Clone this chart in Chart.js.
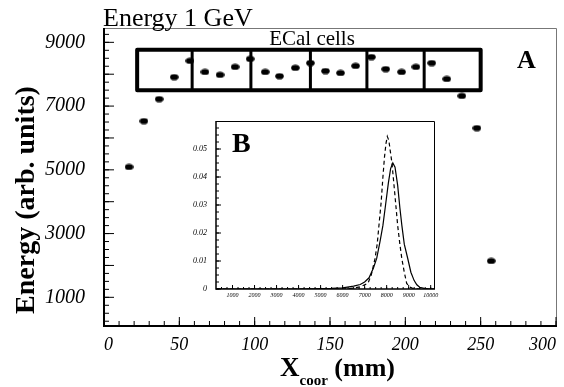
<!DOCTYPE html>
<html>
<head>
<meta charset="utf-8">
<script src="https://cdn.jsdelivr.net/npm/chart.js@4.4.0/dist/chart.umd.min.js"></script>
<style>
  html, body { margin: 0; padding: 0; background: #fff; }
  #wrap { position: relative; width: 564px; height: 387px; }
  #main { position: absolute; left: 0; top: 0; }
  #inset { position: absolute; left: 180px; top: 110px; }
</style>
</head>
<body>
<div id="wrap">
  <canvas id="main" width="564" height="387"></canvas>
  <canvas id="inset" width="265" height="195"></canvas>
</div>
<script>
// --- panel A: reconstructed energy vs. X coordinate ---
const xCoor  = [16.6, 26.5, 36.6, 46.6, 57, 67, 77, 87, 97, 107, 116.5, 127, 137,
                147, 157, 167, 177.5, 187, 197.5, 207, 217.5, 227.5, 237.5, 247.5, 257];
const energy = [5090, 6530, 7220, 7910, 8420, 8070, 7980, 8230, 8480, 8070, 7940, 8200, 8350,
                8100, 8040, 8260, 8540, 8160, 8070, 8230, 8350, 7850, 7320, 6310, 2140];
const xTicks = [0, 50, 100, 150, 200, 250, 300];
const yTicks = [1000, 3000, 5000, 7000, 9000];

// ECal cell borders (mm) and the energy band the drawing of the cells spans
const cellEdges = [22, 58.5, 97.5, 137, 174.5, 212.5, 250];
const cellBand  = [7500, 8770];

// --- panel B: energy spectra ---
const solidE = [250, 1000, 2000, 3000, 4000, 5000, 5500, 6000, 6500, 6800, 7000, 7200, 7400,
                7550, 7700, 7830, 7950, 8080, 8180, 8280, 8380, 8500, 8600, 8690, 8800, 8960,
                9100, 9250, 9370, 9500, 9700, 10000, 10150];
const solidP = [0, 0, 0, 0, 0, 0.0001, 0.0002, 0.0004, 0.001, 0.0016, 0.0025, 0.004, 0.0075,
                0.011, 0.017, 0.0227, 0.030, 0.038, 0.043, 0.045, 0.0435, 0.037, 0.029, 0.0227,
                0.016, 0.0108, 0.006, 0.003, 0.0015, 0.0006, 0.0002, 0, 0];
const dashE  = [250, 2000, 4000, 6000, 6500, 6800, 7000, 7150, 7300, 7470, 7570, 7650, 7750,
                7830, 7900, 7970, 8030, 8100, 8170, 8240, 8370, 8500, 8600, 8690, 8800, 8910,
                9050, 9200, 9500, 10150];
const dashP  = [0, 0, 0, 0, 0.0003, 0.0008, 0.0015, 0.002, 0.005, 0.0108, 0.016, 0.0227, 0.031,
                0.040, 0.047, 0.052, 0.0545, 0.053, 0.049, 0.045, 0.034, 0.0227, 0.016, 0.0108,
                0.006, 0.002, 0.0007, 0.0002, 0, 0];
const insetXTicks = [1000, 2000, 3000, 4000, 5000, 6000, 7000, 8000, 9000, 10000];
const insetYTicks = [0, 0.01, 0.02, 0.03, 0.04, 0.05];

const SERIF = "'Liberation Serif', 'DejaVu Serif', serif";

function dotImage() {
  const c = document.createElement('canvas');
  c.width = 9; c.height = 7;
  const g = c.getContext('2d');
  g.fillStyle = '#000';
  g.beginPath();
  g.ellipse(4.5, 3.5, 4.3, 3.1, 0, 0, Math.PI * 2);
  g.fill();
  return c;
}

// inward ROOT-like tick marks
function tickMarks(ctx, scale, area, from, to, step, len, horizontal) {
  ctx.beginPath();
  for (let v = from; v <= to + 1e-9; v += step) {
    const p = scale.getPixelForValue(v);
    if (horizontal) {
      ctx.moveTo(p, area.bottom);
      ctx.lineTo(p, area.bottom - len);
    } else {
      ctx.moveTo(area.left, p);
      ctx.lineTo(area.left + len, p);
    }
  }
  ctx.stroke();
}

const mainDecor = {
  id: 'mainDecor',
  beforeDatasetsDraw(chart) {
    const { ctx, chartArea: a, scales: { x, y } } = chart;
    ctx.save();
    // frame
    ctx.strokeStyle = '#777';
    ctx.lineWidth = 1;
    ctx.beginPath();
    ctx.moveTo(a.left, a.top + 0.5);
    ctx.lineTo(a.right + 0.5, a.top + 0.5);
    ctx.lineTo(a.right + 0.5, a.bottom);
    ctx.stroke();
    ctx.strokeStyle = '#000';
    ctx.lineWidth = 2;
    ctx.beginPath();
    ctx.moveTo(a.left, a.top);
    ctx.lineTo(a.left, a.bottom);
    ctx.lineTo(a.right + 1, a.bottom);
    ctx.stroke();
    ctx.lineWidth = 1;
    tickMarks(ctx, x, a, 0, 300, 10, 5, true);
    tickMarks(ctx, x, a, 0, 300, 50, 9, true);
    tickMarks(ctx, y, a, 250, 9250, 250, 5, false);
    tickMarks(ctx, y, a, 1000, 9000, 1000, 10, false);

    // ECal cells
    const top = y.getPixelForValue(cellBand[1]);
    const bot = y.getPixelForValue(cellBand[0]);
    ctx.lineJoin = 'round';
    ctx.lineWidth = 4;
    const l = x.getPixelForValue(cellEdges[0]);
    const r = x.getPixelForValue(cellEdges[cellEdges.length - 1]);
    ctx.strokeRect(l, top, r - l, bot - top);
    ctx.lineWidth = 3;
    ctx.beginPath();
    for (let i = 1; i < cellEdges.length - 1; i++) {
      const p = x.getPixelForValue(cellEdges[i]);
      ctx.moveTo(p, top);
      ctx.lineTo(p, bot);
    }
    ctx.stroke();
    ctx.restore();
  },
  afterDraw(chart) {
    const { ctx } = chart;
    ctx.save();
    ctx.fillStyle = '#000';
    ctx.textBaseline = 'alphabetic';
    ctx.font = `26px ${SERIF}`;
    ctx.fillText('Energy 1 GeV', 103, 26);
    ctx.font = `21px ${SERIF}`;
    ctx.textAlign = 'center';
    ctx.fillText('ECal cells', 312, 45);
    ctx.textAlign = 'left';
    ctx.font = `bold 26px ${SERIF}`;
    ctx.fillText('A', 517, 68);

    // x title with subscript
    ctx.font = `bold 27px ${SERIF}`;
    ctx.fillText('X', 280, 376);
    let w = ctx.measureText('X').width;
    ctx.font = `bold 15px ${SERIF}`;
    ctx.fillText('coor', 280 + w, 385);
    w += ctx.measureText('coor').width;
    ctx.font = `bold 26px ${SERIF}`;
    ctx.fillText(' (mm)', 280 + w, 376);

    // y title
    ctx.translate(27, 200);
    ctx.rotate(-Math.PI / 2);
    ctx.font = `bold 28px ${SERIF}`;
    ctx.textAlign = 'center';
    ctx.textBaseline = 'middle';
    ctx.fillText('Energy (arb. units)', 0, 0);
    ctx.restore();
  }
};

new Chart(document.getElementById('main'), {
  type: 'scatter',
  data: {
    datasets: [{
      data: xCoor.map((v, i) => ({ x: v, y: energy[i] })),
      pointStyle: dotImage(),
      pointRadius: 4,
      showLine: false
    }]
  },
  options: {
    responsive: false,
    animation: false,
    events: [],
    layout: { padding: { top: 28, right: 8, left: 0, bottom: 0 } },
    plugins: { legend: { display: false }, tooltip: { enabled: false } },
    scales: {
      x: {
        type: 'linear', min: 0, max: 300,
        afterBuildTicks: s => { s.ticks = xTicks.map(v => ({ value: v })); },
        afterFit: s => { s.height = 61; s.paddingLeft = 0; s.paddingRight = 0; },
        grid: { display: false, drawTicks: false },
        border: { display: false },
        ticks: {
          font: { family: SERIF, style: 'italic', size: 18 }, color: '#000',
          padding: 8, maxRotation: 0, autoSkip: false, align: 'inner',
          callback: v => String(v)
        }
      },
      y: {
        type: 'linear', min: 100, max: 9450,
        afterBuildTicks: s => { s.ticks = yTicks.map(v => ({ value: v })); },
        afterFit: s => { s.width = 104; s.paddingTop = 0; s.paddingBottom = 0; },
        grid: { display: false, drawTicks: false },
        border: { display: false },
        ticks: {
          font: { family: SERIF, style: 'italic', size: 20 }, color: '#000',
          padding: 19, autoSkip: false, callback: v => String(v)
        }
      }
    }
  },
  plugins: [mainDecor]
});

const insetDecor = {
  id: 'insetDecor',
  beforeDatasetsDraw(chart) {
    const { ctx, chartArea: a, scales: { x, y } } = chart;
    ctx.save();
    ctx.fillStyle = '#fff';
    ctx.fillRect(a.left, a.top, a.right - a.left, a.bottom - a.top);
    ctx.strokeStyle = '#000';
    ctx.lineWidth = 1;
    ctx.beginPath();
    ctx.moveTo(a.left, a.top + 0.5);
    ctx.lineTo(a.right + 0.5, a.top + 0.5);
    ctx.lineTo(a.right + 0.5, a.bottom);
    ctx.stroke();
    ctx.lineWidth = 1.5;
    ctx.beginPath();
    ctx.moveTo(a.left, a.top);
    ctx.lineTo(a.left, a.bottom);
    ctx.lineTo(a.right + 1, a.bottom);
    ctx.stroke();
    ctx.lineWidth = 1;
    tickMarks(ctx, x, a, 500, 10000, 250, 2, true);
    tickMarks(ctx, x, a, 1000, 10000, 1000, 4, true);
    tickMarks(ctx, y, a, 0, 0.058, 0.0025, 3, false);
    tickMarks(ctx, y, a, 0, 0.05, 0.01, 5, false);
    ctx.restore();
  },
  afterDraw(chart) {
    const { ctx, chartArea: a } = chart;
    ctx.save();
    ctx.fillStyle = '#000';
    ctx.font = `bold 28px ${SERIF}`;
    ctx.fillText('B', a.left + 16, a.top + 31);
    ctx.restore();
  }
};

new Chart(document.getElementById('inset'), {
  type: 'scatter',
  data: {
    datasets: [
      {
        data: solidE.map((v, i) => ({ x: v, y: solidP[i] })),
        showLine: true, pointRadius: 0, borderColor: '#000', borderWidth: 1.2, tension: 0
      },
      {
        data: dashE.map((v, i) => ({ x: v, y: dashP[i] })),
        showLine: true, pointRadius: 0, borderColor: '#000', borderWidth: 1.2,
        borderDash: [4, 3], tension: 0
      }
    ]
  },
  options: {
    responsive: false,
    animation: false,
    events: [],
    layout: { padding: { top: 11, right: 11, left: 0, bottom: 0 } },
    plugins: { legend: { display: false }, tooltip: { enabled: false } },
    scales: {
      x: {
        type: 'linear', min: 250, max: 10150,
        afterBuildTicks: s => { s.ticks = insetXTicks.map(v => ({ value: v })); },
        afterFit: s => { s.height = 16; s.paddingLeft = 0; s.paddingRight = 0; },
        grid: { display: false, drawTicks: false },
        border: { display: false },
        ticks: {
          font: { family: SERIF, style: 'italic', size: 6 }, color: '#000',
          padding: 3, maxRotation: 0, autoSkip: false, callback: v => String(v)
        }
      },
      y: {
        type: 'linear', min: 0, max: 0.06,
        afterBuildTicks: s => { s.ticks = insetYTicks.map(v => ({ value: v })); },
        afterFit: s => { s.width = 36; s.paddingTop = 0; s.paddingBottom = 0; },
        grid: { display: false, drawTicks: false },
        border: { display: false },
        ticks: {
          font: { family: SERIF, style: 'italic', size: 8 }, color: '#000',
          padding: 9, autoSkip: false, callback: v => (v === 0 ? '0' : v.toFixed(2))
        }
      }
    }
  },
  plugins: [insetDecor]
});
</script>
</body>
</html>
